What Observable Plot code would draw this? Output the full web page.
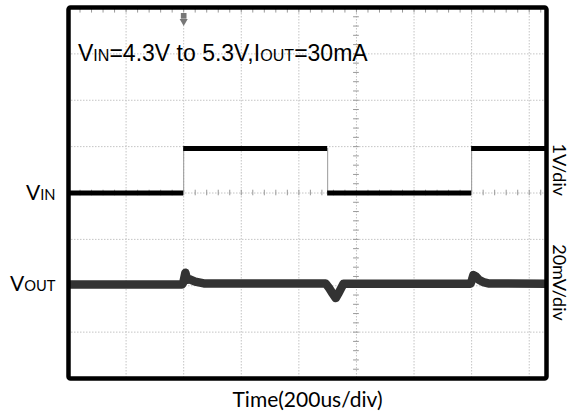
<!DOCTYPE html>
<html><head><meta charset="utf-8">
<script src="https://cdn.jsdelivr.net/npm/d3@7"></script>
<script src="https://cdn.jsdelivr.net/npm/@observablehq/plot@0.6"></script>
<style>body{margin:0;background:#fff}</style>
</head><body><div id="chart"></div>
<script>
// Time axis in microseconds (200 us/div); vertical axis in divisions
const vinEdges = [400, 900, 1400];
const vinStart = [0, 400, 900, 1400];
const vinEnd   = [400, 900, 1400, 1660];
const vinLevel = [4.3, 5.26, 4.3, 5.26];            // volts, 1 V/div, 4.3 V at div 4
const voutTime = [0, 394, 399, 406, 412, 420, 440, 470, 893, 905, 918, 928, 938, 947, 955, 1396, 1401, 1406, 1413, 1425, 1440, 1458, 1660];
const voutDev  = [0.5, 0.5, 1.6, 5.6, 2.6, 2.8, 1.8, 1.0, 1.0, -1.0, -3.5, -5.3, -3.2, -1.0, 0.9, 0.9, 2.5, 4.6, 4.2, 2.6, 1.6, 1.0, 0.9]; // mV, 20 mV/div, 0 at div 2
const gridX = [200, 400, 600, 800, 1000, 1200, 1400, 1600];
const gridY = [1, 2, 3, 4, 5, 6, 7];
const titleText = "V[IN]=4.3V to 5.3V,I[OUT]=30mA";
const leftLabels = ["V[IN]", "V[OUT]"];
const leftLabelY = [4, 2.04];
const rightLabels = ["1V/div", "20mV/div"];
const rightLabelY = [4.5, 2.07];
const xLabel = "Time(200us/div)";

const vinDiv = v => 4 + (v - 4.3);
const voutDiv = mv => 2 + mv / 20;
const vinSegs = vinStart.map((s, i) => ({s, e: vinEnd[i], y: vinDiv(vinLevel[i])}));
const vout = voutTime.map((t, i) => ({t, y: voutDiv(voutDev[i])}));
const minorX = d3.range(0, 1661, 40);
const minorY = d3.range(0, 8.01, 0.2);

const plot = Plot.plot({
  width: 571, height: 414,
  marginLeft: 68, marginRight: 25, marginTop: 7, marginBottom: 36,
  x: {domain: [0, 1660], axis: null},
  y: {domain: [0, 8], axis: null},
  style: {background: "#fff"},
  marks: [
    Plot.ruleX(gridX, {x: d => d, stroke: "#c4c4c4", strokeWidth: 1, strokeDasharray: "1.5,1.5"}),
    Plot.ruleY(gridY, {y: d => d, stroke: "#c4c4c4", strokeWidth: 1, strokeDasharray: "1.5,1.5"}),
    Plot.ruleX(minorX, {x: d => d, y1: 3.94, y2: 4.06, stroke: "#999", strokeWidth: 1}),
    Plot.ruleY(minorY, {y: d => d, x1: 990, x2: 1010, stroke: "#999", strokeWidth: 1}),
    Plot.ruleX(minorX, {x: d => d, y1: 7.88, y2: 8, stroke: "#999", strokeWidth: 1}),
    Plot.ruleX(vinEdges, {x: d => d, y1: vinDiv(4.3), y2: vinDiv(5.26), stroke: "#999", strokeWidth: 1}),
    Plot.ruleY(vinSegs, {y: "y", x1: "s", x2: "e", stroke: "#000", strokeWidth: 5}),
    Plot.line(vout, {x: "t", y: "y", stroke: "#333", strokeWidth: 8.5, strokeLinejoin: "round", strokeLinecap: "butt"}),
    Plot.dot([0], {x: () => 400, y: () => 7.82, symbol: "square", r: 3.2, fill: "#777"}),
    Plot.dot([0], {x: () => 400, y: () => 7.7, symbol: "triangle", rotate: 180, r: 3, fill: "#777"}),
    Plot.text([titleText], {x: () => 33, y: () => 7, text: d => d, textAnchor: "start", lineAnchor: "middle", fontSize: 23, fontFamily: "Liberation Sans, Arial, sans-serif", fill: "#000"}),
    Plot.text(leftLabels, {y: (d, i) => leftLabelY[i], text: d => d, frameAnchor: "left", dx: -13, textAnchor: "end", lineAnchor: "middle", fontSize: 21, fontFamily: "Lato, sans-serif", fill: "#000"}),
    Plot.text(rightLabels, {y: (d, i) => rightLabelY[i], text: d => d, frameAnchor: "right", dx: 12, rotate: 90, textAnchor: "middle", lineAnchor: "middle", fontSize: 18, fontFamily: "Lato, sans-serif", fill: "#000"}),
    Plot.text([xLabel], {text: d => d, frameAnchor: "bottom", dy: 22, lineAnchor: "middle", fontSize: 21, fontFamily: "Lato, sans-serif", fill: "#000"}),
    Plot.frame({stroke: "#000", strokeWidth: 4.5, rx: 2})
  ]
});

// small-cap style subscripts written as [..]
d3.select(plot).selectAll("text").each(function() {
  const t = this.textContent;
  if (!t.includes("[")) return;
  const el = d3.select(this);
  el.text(null);
  t.split(/(\[[^\]]*\])/).filter(s => s.length).forEach(s => {
    if (s.startsWith("[")) el.append("tspan").attr("font-size", "70%").text(s.slice(1, -1));
    else el.append("tspan").text(s);
  });
});
document.getElementById("chart").appendChild(plot);
</script>
</body></html>
